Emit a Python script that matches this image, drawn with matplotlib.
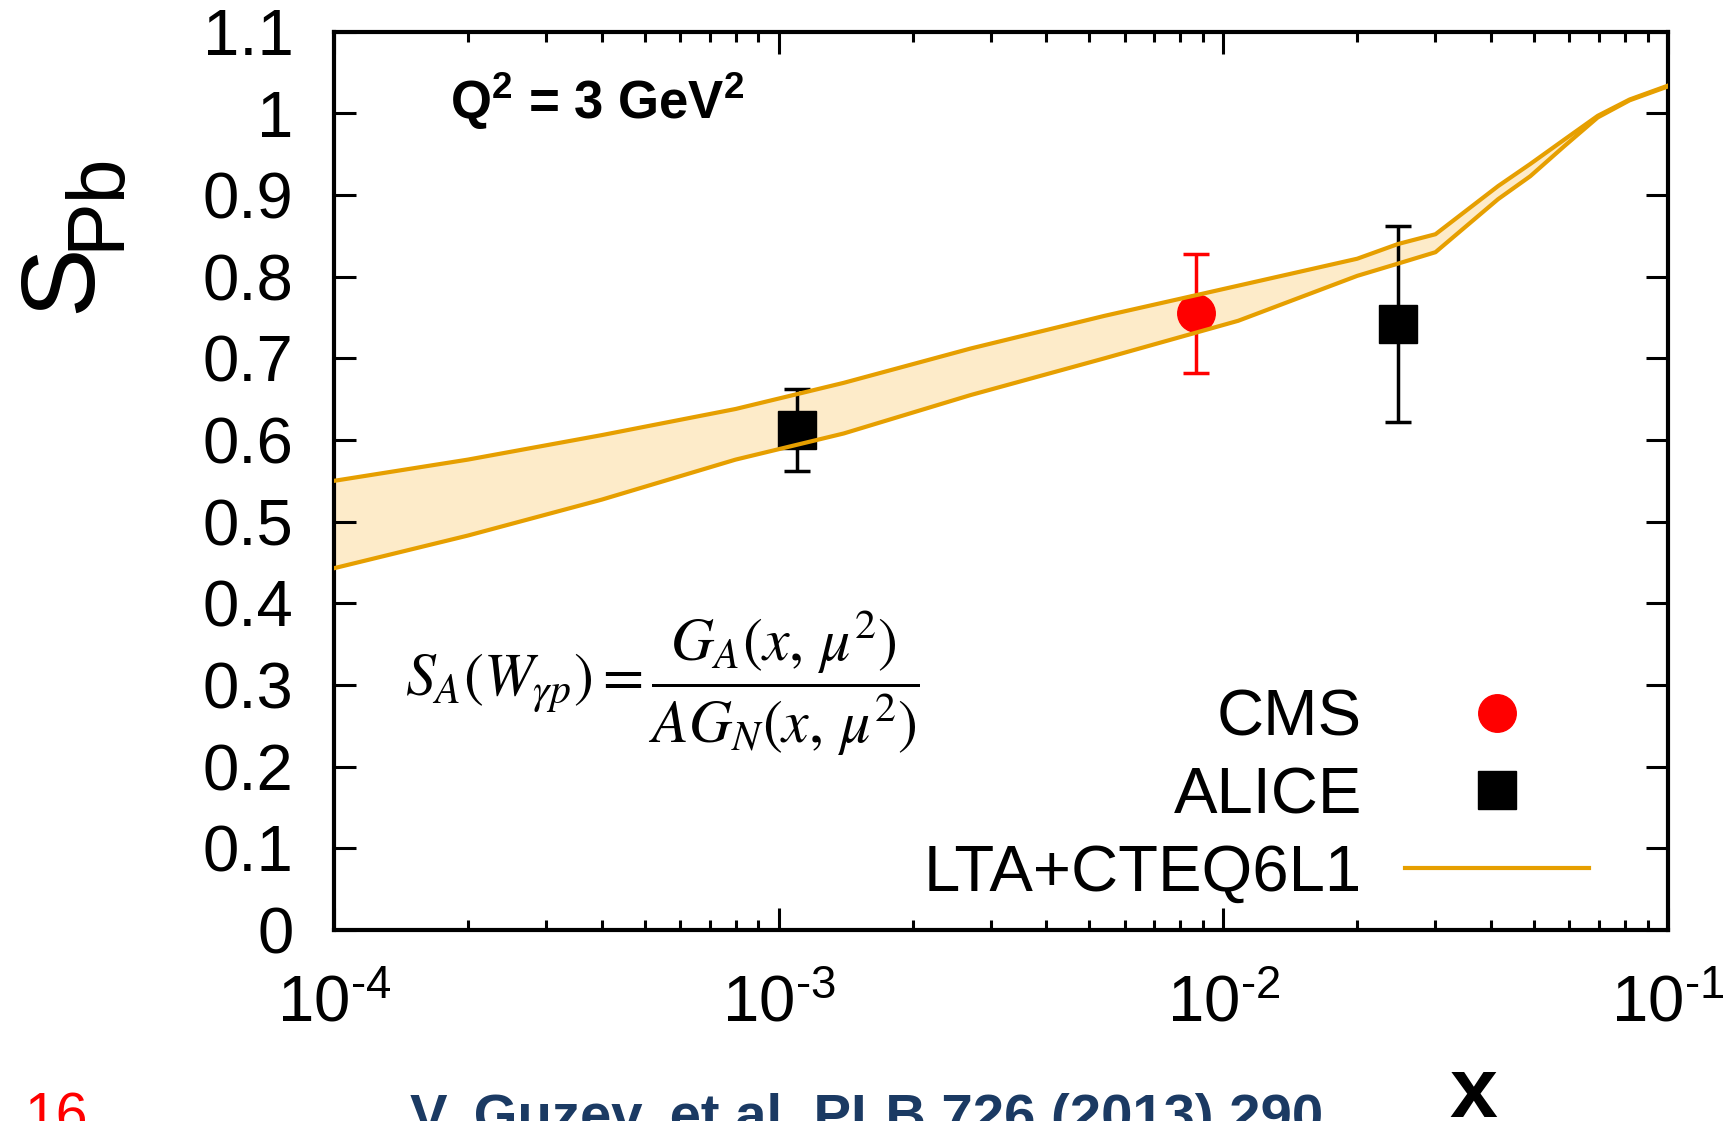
import numpy as np
import matplotlib.pyplot as plt
from matplotlib.lines import Line2D
from matplotlib.ticker import LogLocator, NullFormatter

plt.rcParams['font.family'] = ['Liberation Sans', 'DejaVu Sans']
plt.rcParams['mathtext.fontset'] = 'custom'
plt.rcParams['mathtext.rm'] = 'Liberation Sans'
plt.rcParams['mathtext.it'] = 'Liberation Sans:italic'
plt.rcParams['mathtext.bf'] = 'Liberation Sans:bold'

# LTA+CTEQ6L1 band (upper / lower edge)
band_x = [1.0e-4, 2.0e-4, 4.0e-4, 8.0e-4, 1.4e-3, 2.7e-3, 5.4e-3, 1.08e-2,
          2.0e-2, 2.47e-2, 3.0e-2, 4.15e-2, 4.9e-2, 5.85e-2, 6.95e-2, 8.2e-2, 1.0e-1]
band_hi = [0.550, 0.576, 0.606, 0.638, 0.670, 0.712, 0.752, 0.789,
           0.822, 0.840, 0.852, 0.911, 0.938, 0.968, 0.997, 1.017, 1.034]
band_lo = [0.443, 0.483, 0.527, 0.576, 0.608, 0.655, 0.700, 0.746,
           0.801, 0.816, 0.830, 0.895, 0.923, 0.960, 0.995, 1.016, 1.033]

# data points
cms_x = [8.66e-3]
cms_y = [0.755]
cms_err = [0.073]
alice_x = [1.10e-3, 2.47e-2]
alice_y = [0.612, 0.742]
alice_err = [0.05, 0.12]

yticks = [0, 0.1, 0.2, 0.3, 0.4, 0.5, 0.6, 0.7, 0.8, 0.9, 1.0, 1.1]
ylabels = ['0', '0.1', '0.2', '0.3', '0.4', '0.5', '0.6', '0.7', '0.8', '0.9', '1', '1.1']
xticks = [1e-4, 1e-3, 1e-2, 1e-1]
xlabels = [r'$10^{\text{-}4}$', r'$10^{\text{-}3}$', r'$10^{\text{-}2}$', r'$10^{\text{-}1}$']

orange = '#E69F00'
W, H = 1723, 1121

fig = plt.figure(figsize=(W / 100, H / 100), dpi=100)
ax = fig.add_axes([334 / W, 1 - 930 / H, (1668 - 334) / W, (930 - 31.7) / H])

ax.fill_between(band_x, band_lo, band_hi, color='#FDEBC9', lw=0, zorder=1)
ax.errorbar(alice_x, alice_y, yerr=alice_err, fmt='s', color='black', ms=27,
            capsize=9.5, elinewidth=2.5, capthick=2.5, zorder=2)
ax.errorbar(cms_x, cms_y, yerr=cms_err, fmt='o', color='red', ms=27,
            capsize=9.5, elinewidth=2.5, capthick=2.5, zorder=2)
ax.plot(band_x, band_hi, color=orange, lw=3, zorder=3)
ax.plot(band_x, band_lo, color=orange, lw=3, zorder=3)

ax.set_xscale('log')
ax.set_xlim(1e-4, 1e-1)
ax.set_ylim(0, 1.1)
ax.set_yticks(yticks, ylabels)
ax.set_xticks(xticks, xlabels)
ax.xaxis.set_minor_locator(LogLocator(base=10, subs=np.arange(2, 10)))
ax.xaxis.set_minor_formatter(NullFormatter())
ax.tick_params(which='both', direction='in', top=True, right=True, width=2.2,
               labelsize=47)
ax.tick_params(which='major', length=16)
ax.tick_params(which='minor', length=7.5)
ax.tick_params(axis='y', pad=29)
ax.tick_params(axis='x', pad=32)
for s in ax.spines.values():
    s.set_linewidth(3)

h_cms = Line2D([], [], ls='none', marker='o', color='red', ms=27)
h_alice = Line2D([], [], ls='none', marker='s', color='black', ms=27)
h_lta = Line2D([], [], color=orange, lw=3)
ax.legend([h_cms, h_alice, h_lta], ['CMS', 'ALICE', 'LTA+CTEQ6L1'],
          loc='lower right', bbox_to_anchor=(0.9408, 0.029), frameon=False,
          markerfirst=False, fontsize=47, handlelength=2.82, handletextpad=0.66,
          labelspacing=0.27, borderpad=0, borderaxespad=0)

fig.text(450 / W, 1 - 119 / H, r'Q$^{\mathbf{2}}$ = 3 GeV$^{\mathbf{2}}$',
         fontsize=38, fontweight='bold', va='baseline')
fig.text(405 / W, 1 - 683 / H,
         r'$S_A(W_{\gamma p}) = \dfrac{G_A(x,\,\mu^2)}{AG_N(x,\,\mu^2)}$',
         fontsize=43, math_fontfamily='stix', ha='left', va='center')

fig.text(90 / W, 1 - 278 / H, 'S', fontsize=75, rotation=90,
         rotation_mode='anchor', ha='center', va='baseline')
fig.text(118 / W, 1 - 201 / H, 'Pb', fontsize=58, rotation=90,
         rotation_mode='anchor', ha='center', va='baseline')

fig.text(1473 / W, 1 - 1117 / H, 'x', fontsize=62, fontweight='bold',
         ha='center', va='baseline')
fig.text(25 / W, 1 - 1133 / H, '16', color='red', fontsize=41, va='baseline')
fig.text(410 / W, 1 - 1133 / H, 'V. Guzev, et al. PLB 726 (2013) 290',
         color='#1B3A63', fontsize=40.5, fontweight='bold', va='baseline')

fig.savefig('out.png', dpi=100)
